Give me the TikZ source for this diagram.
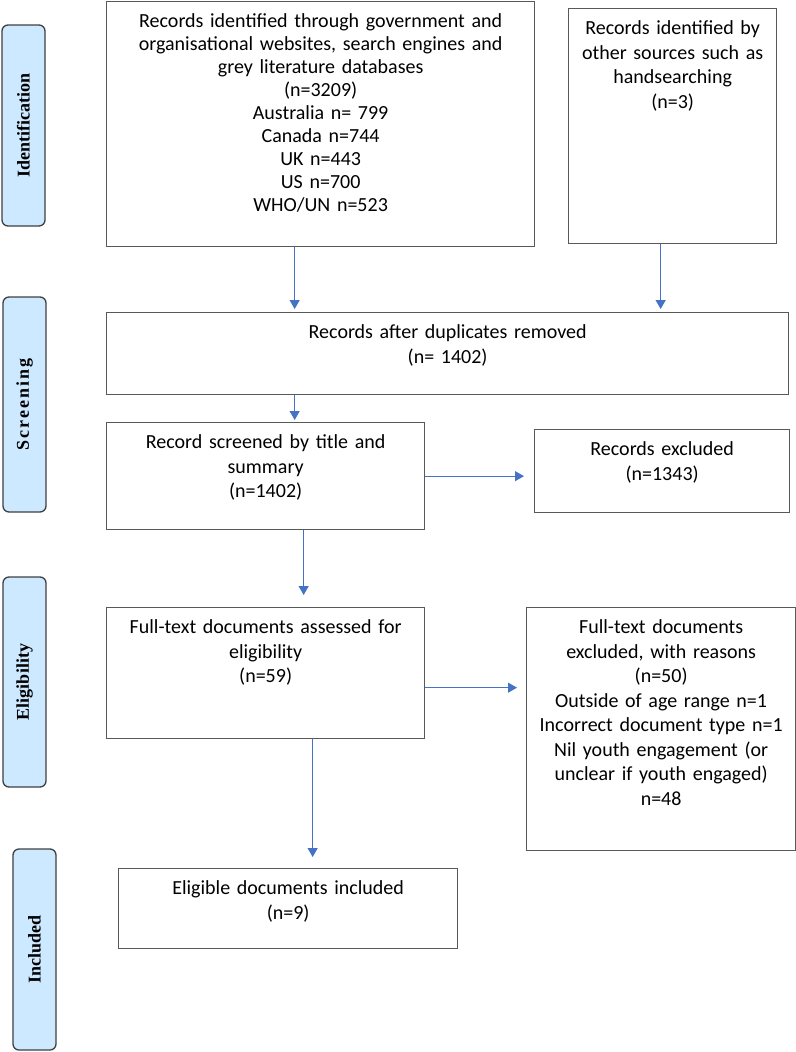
\documentclass[tikz,border=0pt]{standalone}
\usepackage{fontspec}
\setmainfont{Carlito}
\newfontfamily\phasefont{Liberation Serif}
\newfontfamily\phasewide{Liberation Serif}[LetterSpace=11]
\usepackage{tikz}
\usetikzlibrary{arrows.meta, positioning}
\definecolor{flowblue}{HTML}{4472C4}
\definecolor{phasefill}{HTML}{CDE9FF}
\definecolor{phaseline}{HTML}{404040}
\definecolor{boxline}{HTML}{595959}

\begin{document}
\begin{tikzpicture}[
    x=1bp, y=-1bp,
    >={Triangle[length=9bp, width=10bp]},
    phase/.style={draw=phaseline, line width=1.3bp, fill=phasefill, rounded corners=6bp, rotate=90, inner sep=0pt, minimum height=43bp, font=\phasefont\fontsize{18bp}{22bp}\selectfont\bfseries},
    recbox/.style={draw=boxline, line width=1.3bp, anchor=north west, align=center, inner xsep=4bp, inner ysep=12bp, text height=14bp, text width=#1, font=\fontsize{20bp}{24.5bp}\selectfont},
    flow/.style={->, flowblue, line width=1.2bp},
]
    \useasboundingbox (0,0) rectangle (796,1052);

    % Phase labels
    \node[phase, minimum width=201bp] (ident) at (23.5,125.5) {Identification};
    \node[phase, minimum width=215bp] (screening) at (24.5,404.5) {\phasewide Screening};
    \node[phase, minimum width=210bp] (eligibility) at (24.5,682) {Eligibility};
    \node[phase, minimum width=201bp] (included) at (34.5,949.5) {Included};

    % Identification
    \node[recbox=420bp, text depth=207bp, font=\fontsize{20bp}{23bp}\selectfont] (src) at (106,1) {Records identified through government and\\organisational websites, search engines and\\grey literature databases\\(n=3209)\\Australia n= 799\\Canada n=744\\UK n=443\\US n=700\\WHO/UN n=523};
    \node[recbox=200bp, text depth=197bp] (hand) at (568,8) {Records identified by\\other sources such as\\handsearching\\(n=3)};

    % Screening
    \node[recbox=674bp, text depth=44bp] (dup) at (106,312) {Records after duplicates removed\\(n= 1402)};
    \node[recbox=310bp, text depth=69bp] (screen) at (106,422) {Record screened by title and\\summary\\(n=1402)};
    \node[recbox=247bp, text depth=45bp] (excl) at (534,429) {Records excluded\\(n=1343)};

    % Eligibility
    \node[recbox=310bp, text depth=93bp] (elig) at (106,607) {Full-text documents assessed for\\eligibility\\(n=59)};
    \node[recbox=261bp, text depth=205bp] (fulltext) at (526,607) {Full-text documents\\excluded, with reasons\\(n=50)\\Outside of age range n=1\\Incorrect document type n=1\\Nil youth engagement (or\\unclear if youth engaged)\\n=48};

    % Included
    \node[recbox=331bp, text depth=42bp] (incl) at (118,868) {Eligible documents included\\(n=9)};

    % Arrows
    \draw[flow, shorten >=3bp] ([xshift=-26bp]src.south) -- ([xshift=-26bp]src.south |- dup.north);
    \draw[flow, shorten >=3bp] ([xshift=-12bp]hand.south) -- ([xshift=-12bp]hand.south |- dup.north);
    \draw[flow, shorten >=2bp] ([xshift=29bp]screen.north |- dup.south) -- ([xshift=29bp]screen.north);
    \draw[flow, shorten >=10bp] (screen.east) -- (screen.east -| excl.west);
    \draw[flow, shorten >=12bp] ([xshift=38bp]screen.south) -- ([xshift=38bp]screen.south |- elig.north);
    \draw[flow, shorten >=9bp] ([yshift=-14.5bp]elig.east) -- ([yshift=-14.5bp]elig.east -| fulltext.west);
    \draw[flow, shorten >=11bp] ([xshift=47bp]elig.south) -- ([xshift=47bp]elig.south |- incl.north);

\end{tikzpicture}
\end{document}
